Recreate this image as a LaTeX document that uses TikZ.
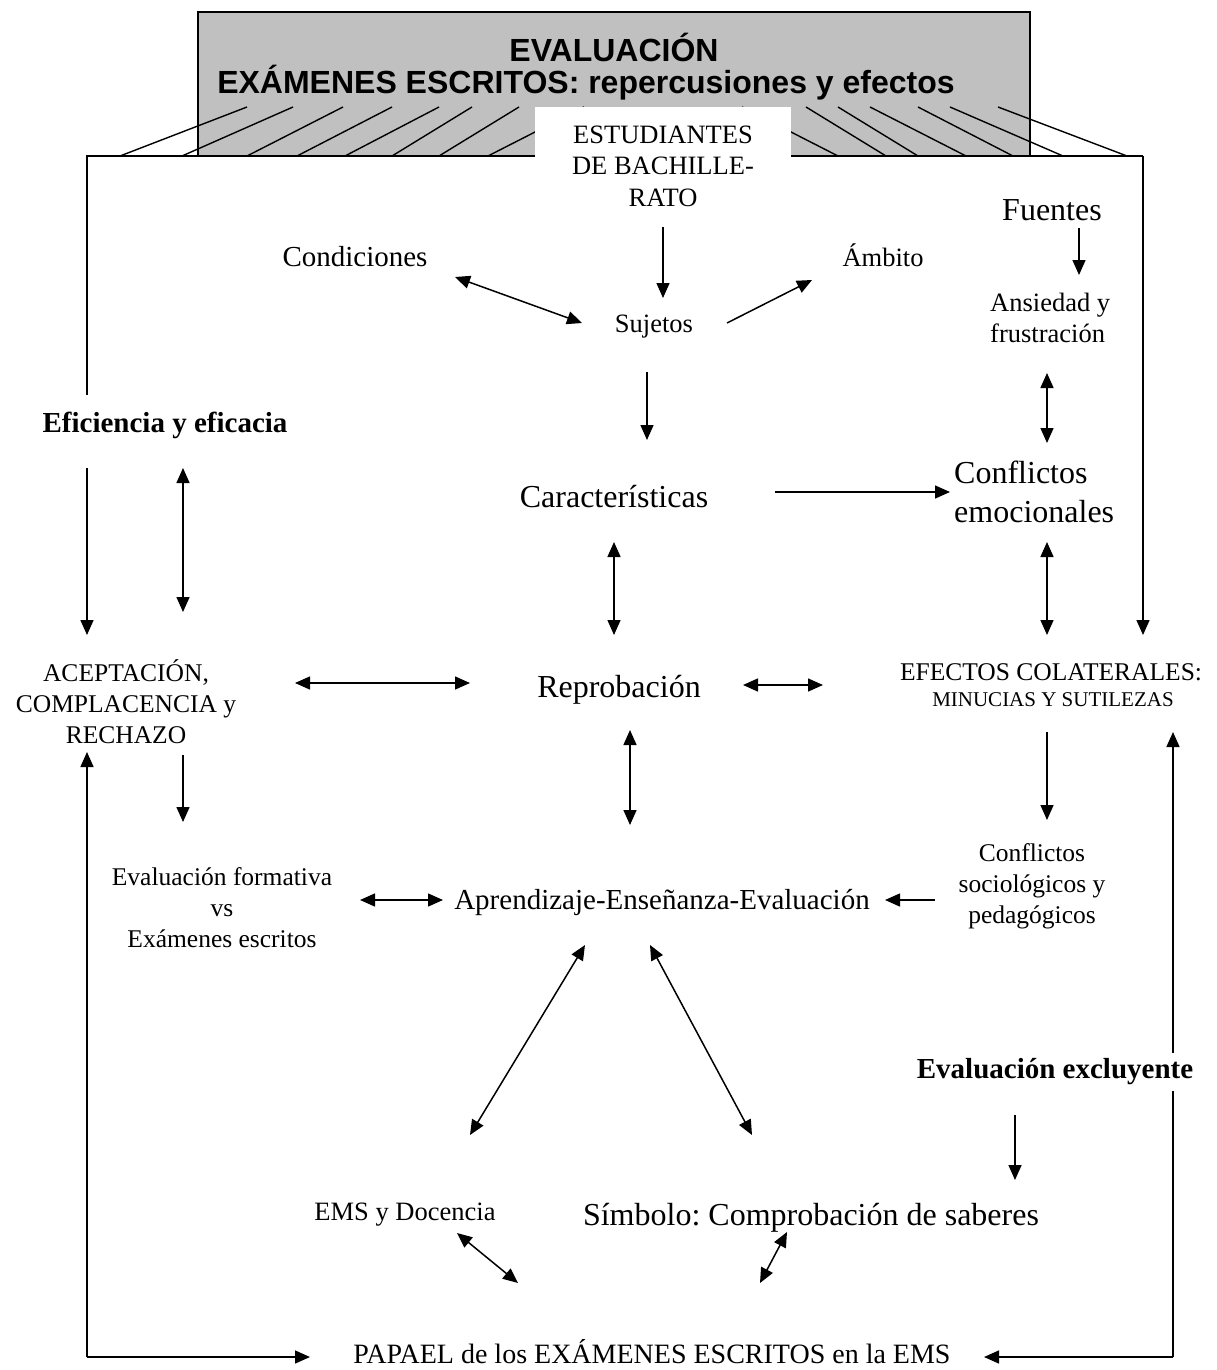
\documentclass[tikz,border=0pt]{standalone}
\usepackage{fontspec}
\setmainfont{Liberation Serif}
\newfontfamily\arialf{Liberation Sans}
\usetikzlibrary{arrows.meta}
\definecolor{boxgray}{RGB}{192,192,192}
\frenchspacing
\begin{document}
\begin{tikzpicture}[x=1pt,y=-1pt,
  ln/.style={line width=1.5pt},
  hl/.style={line width=1.4pt},
  arr/.style={ln,-{Triangle[length=15pt,width=13pt]}},
  darr/.style={ln,{Triangle[length=15pt,width=13pt]}-{Triangle[length=15pt,width=13pt]}},
  tit/.style={inner sep=0pt,font=\arialf\bfseries\fontsize{32}{36}\selectfont},
  sA/.style={inner sep=0pt,align=center,font=\fontsize{32}{39}\selectfont},
  sB/.style={inner sep=0pt,align=center,font=\fontsize{29}{34}\selectfont},
  sC/.style={inner sep=0pt,align=center,font=\fontsize{26.5}{31.5}\selectfont},
  sD/.style={inner sep=0pt,align=center,font=\fontsize{25.5}{31}\selectfont},
  sE/.style={inner sep=0pt,align=center,font=\fontsize{21}{26}\selectfont},
  sBold/.style={inner sep=0pt,align=center,font=\bfseries\fontsize{29}{34}\selectfont}]
\useasboundingbox (0,0) rectangle (1217,1370);
\fill[white] (0,0) rectangle (1217,1370);
% title box
\draw[ln,fill=boxgray] (198,12) rectangle (1030,156);
% hatching
\foreach \a/\b/\c/\d in {120/156/247/107,182/156/293/107,247/156/343/107,297/156/392/107,345/156/439/107,392/156/472/107,439/156/519/107,488/156/584/107,
  742/107/838/156,806/107/886/156,838/107/918/156,870/107/966/156,918/107/1013/156,950/107/1063/156,998/107/1127/156}
  \draw[hl] (\a,\b) -- (\c,\d);
% frame
\coordinate (fl) at (87,395);
\coordinate (ftl) at (87,156);
\coordinate (ftr) at (1143,156);
\coordinate (fr) at (1143,635);
\draw[ln] (fl) -- (ftl) -- (ftr);
\draw[arr] (ftr) -- (fr);
% white box
\fill[white] (535,107) rectangle (791,222);
\node[tit] (t1) at (614,47) {EVALUACIÓN};
\node[tit] (t2) at (586,83) {EXÁMENES ESCRITOS: repercusiones y efectos};
\node[sC] (est) at (663,166) {ESTUDIANTES\\DE BACHILLE-\\RATO};
% upper nodes
\node[sB] (cond) at (355,257) {Condiciones};
\node[sC] (suj) at (654,327) {Sujetos};
\node[sC] (amb) at (883,255) {Ámbito};
\node[sA] (fue) at (1052,210) {Fuentes};
\node[sC,align=left,anchor=west] (ans) at (990,318) {Ansiedad y\\frustración};
\node[sBold] (efi) at (165,425) {Eficiencia y eficacia};
\node[sA] (car) at (614,497) {Características};
\node[sA,align=left,anchor=west] (ce) at (954,492) {Conflictos\\emocionales};
\node[sD] (acep) at (126,702) {ACEPTACIÓN,\\COMPLACENCIA y\\RECHAZO};
\node[sA] (rep) at (619,690) {Reprobación};
\node[sD] (efc) at (1051,672) {EFECTOS COLATERALES:};
\node[sE] (min) at (1053,700) {MINUCIAS Y SUTILEZAS};
\node[sD] (evf) at (222,908) {Evaluación formativa\\vs\\Exámenes escritos};
\node[sB] (apr) at (662,902) {Aprendizaje-Enseñanza-Evaluación};
\node[sD] (cso) at (1032,886) {Conflictos\\sociológicos y\\pedagógicos};
\node[sC] (ems) at (405,1215) {EMS y Docencia};
\node[sA] (sim) at (811,1218) {Símbolo: Comprobación de saberes};
\node[inner sep=0pt,font=\fontsize{28}{33}\selectfont] (pap) at (652,1352) {PAPAEL de los EXÁMENES ESCRITOS en la EMS};
% connector end points
\coordinate (e1a) at (663,227); \coordinate (e1b) at (663,298);
\coordinate (e2a) at (455,277); \coordinate (e2b) at (582,323);
\coordinate (e3a) at (727,323); \coordinate (e3b) at (812,280);
\coordinate (e4a) at (647,372); \coordinate (e4b) at (647,440);
\coordinate (e5a) at (1079,228); \coordinate (e5b) at (1079,275);
\coordinate (e6a) at (1047,373); \coordinate (e6b) at (1047,443);
\coordinate (e7a) at (775,492); \coordinate (e7b) at (950,492);
\coordinate (e8a) at (1047,542); \coordinate (e8b) at (1047,635);
\coordinate (e9a) at (614,542); \coordinate (e9b) at (614,635);
\coordinate (e10a) at (87,468); \coordinate (e10b) at (87,635);
\coordinate (e11a) at (183,468); \coordinate (e11b) at (183,612);
\coordinate (e12a) at (295,683); \coordinate (e12b) at (470,683);
\coordinate (e13a) at (743,685); \coordinate (e13b) at (823,685);
\coordinate (e14a) at (630,730); \coordinate (e14b) at (630,825);
\coordinate (e15a) at (183,755); \coordinate (e15b) at (183,822);
\coordinate (e16a) at (1047,732); \coordinate (e16b) at (1047,820);
\coordinate (e17a) at (360,900); \coordinate (e17b) at (443,900);
\coordinate (e18a) at (935,900); \coordinate (e18b) at (885,900);
\coordinate (e19a) at (585,945); \coordinate (e19b) at (470,1135);
\coordinate (e20a) at (650,945); \coordinate (e20b) at (752,1135);
\coordinate (e21a) at (1015,1115); \coordinate (e21b) at (1015,1180);
\coordinate (e22a) at (457,1233); \coordinate (e22b) at (518,1283);
\coordinate (e23a) at (787,1232); \coordinate (e23b) at (760,1283);
\coordinate (bl) at (87,1357); \coordinate (blt) at (87,752); \coordinate (blr) at (310,1357);
\coordinate (br) at (1173,1357); \coordinate (brt) at (1173,732); \coordinate (brl) at (984,1357);
% connectors
\draw[arr] (e1a) -- (e1b);
\draw[darr] (e2a) -- (e2b);
\draw[arr] (e3a) -- (e3b);
\draw[arr] (e4a) -- (e4b);
\draw[arr] (e5a) -- (e5b);
\draw[darr] (e6a) -- (e6b);
\draw[arr] (e7a) -- (e7b);
\draw[darr] (e8a) -- (e8b);
\draw[darr] (e9a) -- (e9b);
\draw[arr] (e10a) -- (e10b);
\draw[darr] (e11a) -- (e11b);
\draw[darr] (e12a) -- (e12b);
\draw[darr] (e13a) -- (e13b);
\draw[darr] (e14a) -- (e14b);
\draw[arr] (e15a) -- (e15b);
\draw[arr] (e16a) -- (e16b);
\draw[darr] (e17a) -- (e17b);
\draw[arr] (e18a) -- (e18b);
\draw[darr] (e19a) -- (e19b);
\draw[darr] (e20a) -- (e20b);
\draw[arr] (e21a) -- (e21b);
\draw[darr] (e22a) -- (e22b);
\draw[darr] (e23a) -- (e23b);
\draw[arr] (bl) -- (blt);
\draw[arr] (bl) -- (blr);
\draw[arr] (br) -- (brt);
\draw[arr] (br) -- (brl);
\node[sBold,fill=white,inner ysep=6pt] (exc) at (1055,1072) {Evaluación excluyente};
\end{tikzpicture}
\end{document}
